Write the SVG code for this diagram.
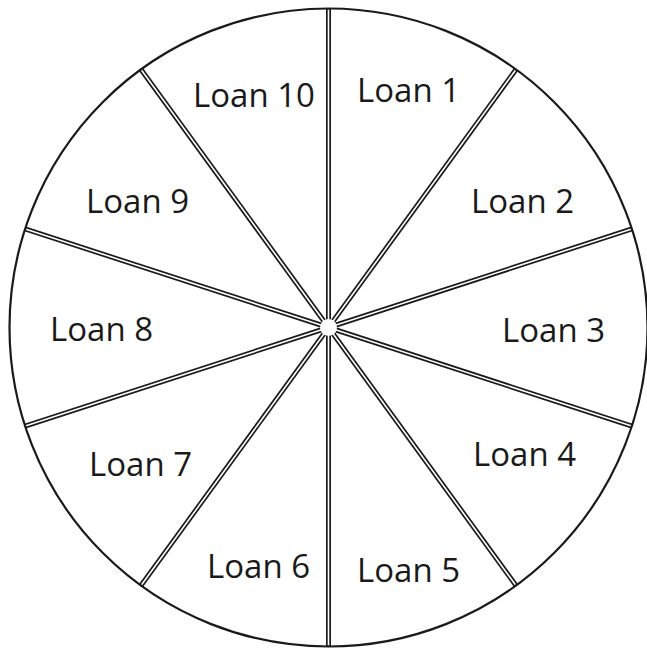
<svg xmlns="http://www.w3.org/2000/svg" width="647" height="651" viewBox="0 0 647 651">
<style>
.outer{stroke:#1a1a1a;stroke-width:5;}
.inner{stroke:#fff;stroke-width:1.6;}
.rim{fill:none;stroke:#1a1a1a;stroke-width:2.2;}
text{font-family:"Open Sans","Liberation Sans",sans-serif;font-size:33px;fill:#1a1a1a;}
</style>
<rect width="647" height="651" fill="#fff"/>
<defs>
<g id="spoke"><line class="outer" x1="0" y1="0" x2="0" y2="-319"/><line class="inner" x1="0" y1="0" x2="0" y2="-318"/></g>
</defs>
<g id="connectors" transform="translate(328.5,327.5)">
<use href="#spoke" transform="rotate(0)"/>
<use href="#spoke" transform="rotate(36)"/>
<use href="#spoke" transform="rotate(72)"/>
<use href="#spoke" transform="rotate(108)"/>
<use href="#spoke" transform="rotate(144)"/>
<use href="#spoke" transform="rotate(180)"/>
<use href="#spoke" transform="rotate(216)"/>
<use href="#spoke" transform="rotate(252)"/>
<use href="#spoke" transform="rotate(288)"/>
<use href="#spoke" transform="rotate(324)"/>
<circle cx="0" cy="0" r="8.5" fill="#fff"/>
<circle class="rim" cx="0" cy="0" r="319"/>
</g>
<g id="loan1"><text x="357" y="102">Loan 1</text></g>
<g id="loan2"><text x="471" y="213">Loan 2</text></g>
<g id="loan3"><text x="502" y="342">Loan 3</text></g>
<g id="loan4"><text x="473" y="466">Loan 4</text></g>
<g id="loan5"><text x="357" y="582">Loan 5</text></g>
<g id="loan6"><text x="207" y="578">Loan 6</text></g>
<g id="loan7"><text x="89" y="476">Loan 7</text></g>
<g id="loan8"><text x="50" y="341">Loan 8</text></g>
<g id="loan9"><text x="86" y="213">Loan 9</text></g>
<g id="loan10"><text x="193" y="107">Loan 10</text></g>
</svg>
